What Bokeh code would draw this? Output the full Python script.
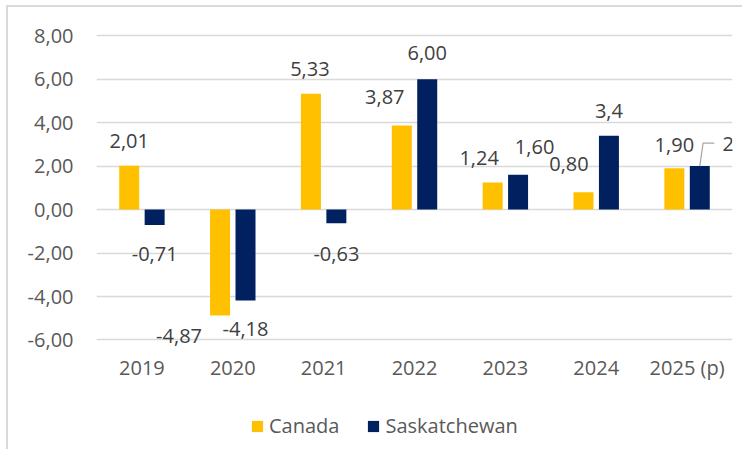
from bokeh.plotting import figure
from bokeh.layouts import column
from bokeh.models import ColumnDataSource, Range1d, FixedTicker, Legend, LegendItem
from bokeh.core.properties import value
from bokeh.embed import file_html
from bokeh.resources import INLINE

# ---- data ----
years = ["2019", "2020", "2021", "2022", "2023", "2024", "2025 (p)"]
canada = [2.01, -4.87, 5.33, 3.87, 1.24, 0.80, 1.90]
sask = [-0.71, -4.18, -0.63, 6.00, 1.60, 3.4, 2]
canada_labels = ["2,01", "-4,87", "5,33", "3,87", "1,24", "0,80", "1,90"]
sask_labels = ["-0,71", "-4,18", "-0,63", "6,00", "1,60", "3,4", "2"]
y_ticks = [-6, -4, -2, 0, 2, 4, 6, 8]
y_tick_labels = ["-6,00", "-4,00", "-2,00", "0,00", "2,00", "4,00", "6,00", "8,00"]
series_names = ["Canada", "Saskatchewan"]
series_colors = ["#FFC000", "#002060"]

# ---- label nudges (pixels; dx right, dy up) ----
can_dx = [0, -41, -1, -17, -13.5, -14.5, 0]
can_dy = [25, -21, 25, 28, 25, 28, 23]
sask_dx = [0, 0, 0, 0, 16.5, 0, 28.5]
sask_dy = [-29, -28.5, -31, 26, 28, 25, 22]

FONT = "Open Sans"
W, H = 736, 400
LEFT, RIGHT, TOP = 88, 12, 26
FH = 313
BOTTOM = H - TOP - FH
YMIN, YMAX = -6.3, 8.1
OFF, BW = 0.14, 0.22

p = figure(width=W, height=H, output_backend="svg", toolbar_location=None,
           x_range=Range1d(0, len(years)), y_range=Range1d(YMIN, YMAX),
           min_border_left=LEFT, min_border_right=RIGHT,
           min_border_top=TOP, min_border_bottom=BOTTOM,
           background_fill_color="white", border_fill_color="white")
p.outline_line_color = None

fw = W - LEFT - RIGHT
xpx = fw / len(years)
ypx = FH / (YMAX - YMIN)

cx = [i + 0.5 for i in range(len(years))]
can_x = [c - OFF for c in cx]
sask_x = [c + OFF for c in cx]

src_c = ColumnDataSource(dict(x=can_x, top=canada, lab=canada_labels,
                              dx=can_dx, dy=[-d for d in can_dy]))
src_s = ColumnDataSource(dict(x=sask_x, top=sask, lab=sask_labels,
                              dx=sask_dx, dy=[-d for d in sask_dy]))

p.vbar(x="x", top="top", bottom=0, width=BW, source=src_c,
       fill_color=series_colors[0], line_color=None)
p.vbar(x="x", top="top", bottom=0, width=BW, source=src_s,
       fill_color=series_colors[1], line_color=None)

for src in (src_c, src_s):
    p.text(x="x", y="top", text="lab", x_offset="dx", y_offset="dy", source=src,
           text_align="center", text_baseline="middle",
           text_font=value(FONT), text_font_size="20px", text_color="#404040")

# leader line for the last Saskatchewan label
i = len(years) - 1
lx0 = sask_x[i]
ly0 = sask[i]
ly1 = ly0 + (sask_dy[i] + 1) / ypx
p.line(x=[lx0, lx0 + 3.3 / xpx, lx0 + 14.5 / xpx], y=[ly0, ly1, ly1],
       line_color="#a6a6a6", line_width=1.2)

# axes
p.yaxis.ticker = FixedTicker(ticks=y_ticks)
p.yaxis.major_label_overrides = {t: l for t, l in zip(y_ticks, y_tick_labels)}
p.xaxis.ticker = FixedTicker(ticks=cx)
p.xaxis.major_label_overrides = {c: y for c, y in zip(cx, years)}
for ax in (p.xaxis[0], p.yaxis[0]):
    ax.axis_line_color = None
    ax.major_tick_line_color = None
    ax.minor_tick_line_color = None
    ax.major_tick_out = 0
    ax.major_tick_in = 0
    ax.major_label_text_font = FONT
    ax.major_label_text_font_size = "20px"
    ax.major_label_text_color = "#595959"
p.yaxis.major_label_standoff = 23
p.xaxis.major_label_standoff = 7

p.xgrid.visible = False
p.ygrid.grid_line_color = "#d9d9d9"
p.ygrid.grid_line_width = 1.5

# ---- legend strip ----
LH = 44
p2 = figure(width=W, height=LH, output_backend="svg", toolbar_location=None,
            x_range=Range1d(0, 1), y_range=Range1d(0, 1),
            x_axis_location=None, y_axis_location=None,
            min_border=0, background_fill_color="white", border_fill_color="white")
p2.outline_line_color = None
p2.grid.visible = False
items = []
for name, col in zip(series_names, series_colors):
    r = p2.vbar(x=[-10], top=[-10], bottom=-11, width=0.1,
                fill_color=col, line_color=None)
    items.append(LegendItem(label=name, renderers=[r]))
legend = Legend(items=items, orientation="horizontal", location=(154, 12),
                glyph_width=14, glyph_height=14, label_standoff=5, spacing=27,
                padding=0, margin=0, border_line_color=None,
                background_fill_alpha=0,
                label_text_font=FONT, label_text_font_size="20px",
                label_text_color="#595959")
p2.add_layout(legend, "center")

layout = column(p, p2, spacing=0)
layout.styles = {"margin-left": "8px", "margin-top": "7px",
                 "box-shadow": "-2px -2px 0px 0px #d9d9d9"}

open("out.html", "w").write(file_html(layout, INLINE))
